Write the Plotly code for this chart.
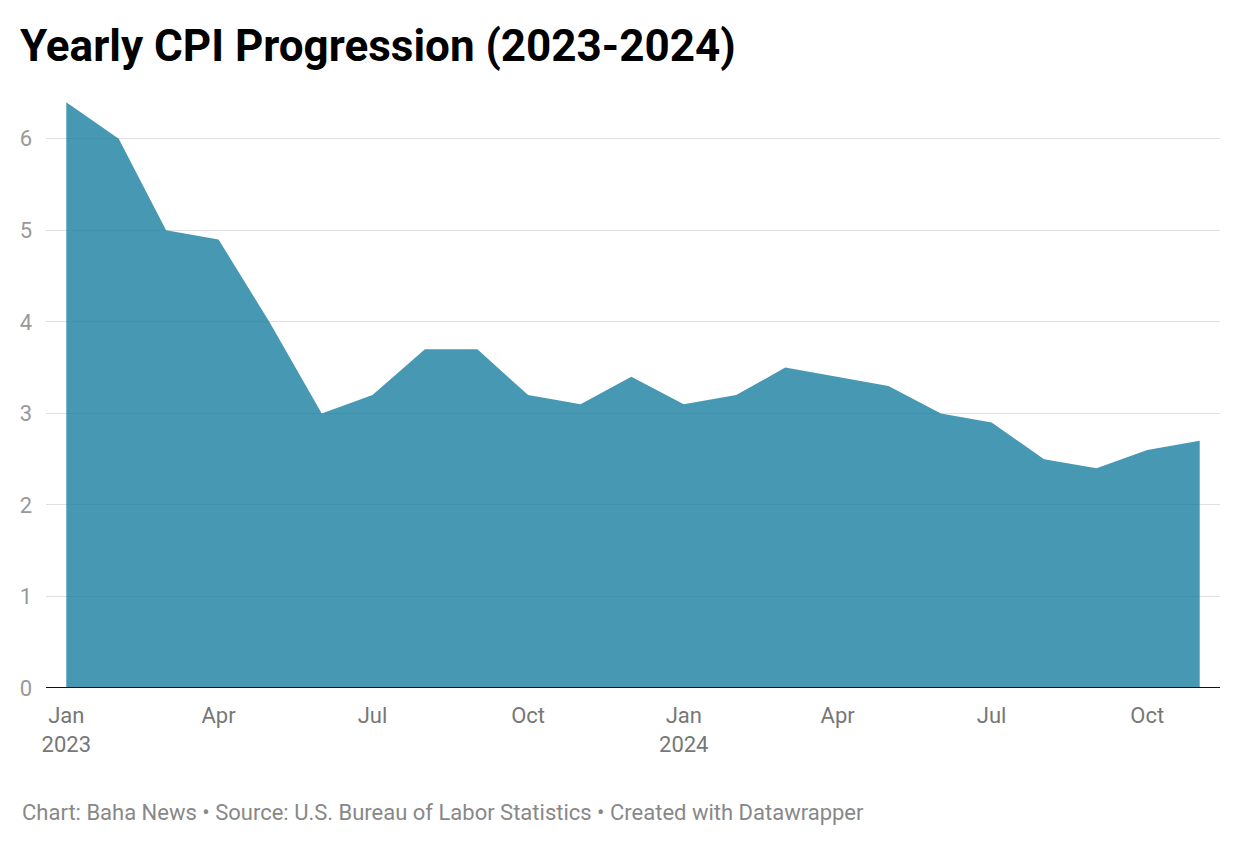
import plotly.graph_objects as go

months = ["2023-01-01", "2023-02-01", "2023-03-01", "2023-04-01", "2023-05-01", "2023-06-01",
          "2023-07-01", "2023-08-01", "2023-09-01", "2023-10-01", "2023-11-01", "2023-12-01",
          "2024-01-01", "2024-02-01", "2024-03-01", "2024-04-01", "2024-05-01", "2024-06-01",
          "2024-07-01", "2024-08-01", "2024-09-01", "2024-10-01", "2024-11-01"]
cpi = [6.4, 6.0, 5.0, 4.9, 4.0, 3.0, 3.2, 3.7, 3.7, 3.2, 3.1, 3.4,
       3.1, 3.2, 3.5, 3.4, 3.3, 3.0, 2.9, 2.5, 2.4, 2.6, 2.7]

x_tickvals = ["2023-01-01", "2023-04-01", "2023-07-01", "2023-10-01",
              "2024-01-01", "2024-04-01", "2024-07-01", "2024-10-01"]
x_ticktext = ["Jan<br>2023", "Apr", "Jul", "Oct", "Jan<br>2024", "Apr", "Jul", "Oct"]
y_tickvals = [0, 1, 2, 3, 4, 5, 6]

# The page body has an 8px default margin, so the figure is sized 8px smaller
W, H = 1232, 838
L, R, T, B = 38, 20, 85, 158
PW, PH = W - L - R, H - T - B

fig = go.Figure()
fig.add_trace(go.Scatter(
    x=months, y=cpi, mode="lines", fill="tozeroy",
    line=dict(width=0, color="rgba(12,120,155,0.76)"),
    fillcolor="rgba(12,120,155,0.76)",
    hoverinfo="x+y", showlegend=False,
))

fig.update_layout(
    width=W, height=H,
    margin=dict(l=L, r=R, t=T, b=B),
    paper_bgcolor="white", plot_bgcolor="white",
    font=dict(family="Roboto, sans-serif", color="#888888", size=22),
    title=dict(text="<b>Yearly CPI Progression (2023-2024)</b>",
               font=dict(family="Roboto, sans-serif", size=44, color="#000000"),
               x=0, xref="paper", xanchor="left",
               y=1 - 38 / H, yref="container", yanchor="middle",
               pad=dict(l=-26)),
    xaxis=dict(
        type="date", range=["2022-12-20", "2024-11-13"],
        tickmode="array", tickvals=x_tickvals, ticktext=x_ticktext,
        showgrid=False, zeroline=False, showline=False, ticks="",
        tickfont=dict(color="#777777", size=22), ticklabelstandoff=12,
    ),
    yaxis=dict(
        range=[0, 6.5], tickmode="array", tickvals=y_tickvals,
        showgrid=True, gridcolor="#e0e0e0", gridwidth=1,
        zeroline=False, showline=False, ticks="",
        tickfont=dict(color="#999999", size=22), ticklabelstandoff=13,
    ),
    shapes=[dict(type="line", xref="paper", yref="y", x0=0, x1=1, y0=0, y1=0,
                 line=dict(color="#111111", width=2), layer="above")],
    annotations=[dict(
        text="Chart: Baha News • Source: U.S. Bureau of Labor Statistics • Created with Datawrapper",
        xref="paper", yref="paper", x=-26 / PW, y=-124 / PH, xanchor="left", yanchor="middle",
        showarrow=False, font=dict(color="#888888", size=22, family="Roboto, sans-serif"),
    )],
)

fig.write_html("out.html")
